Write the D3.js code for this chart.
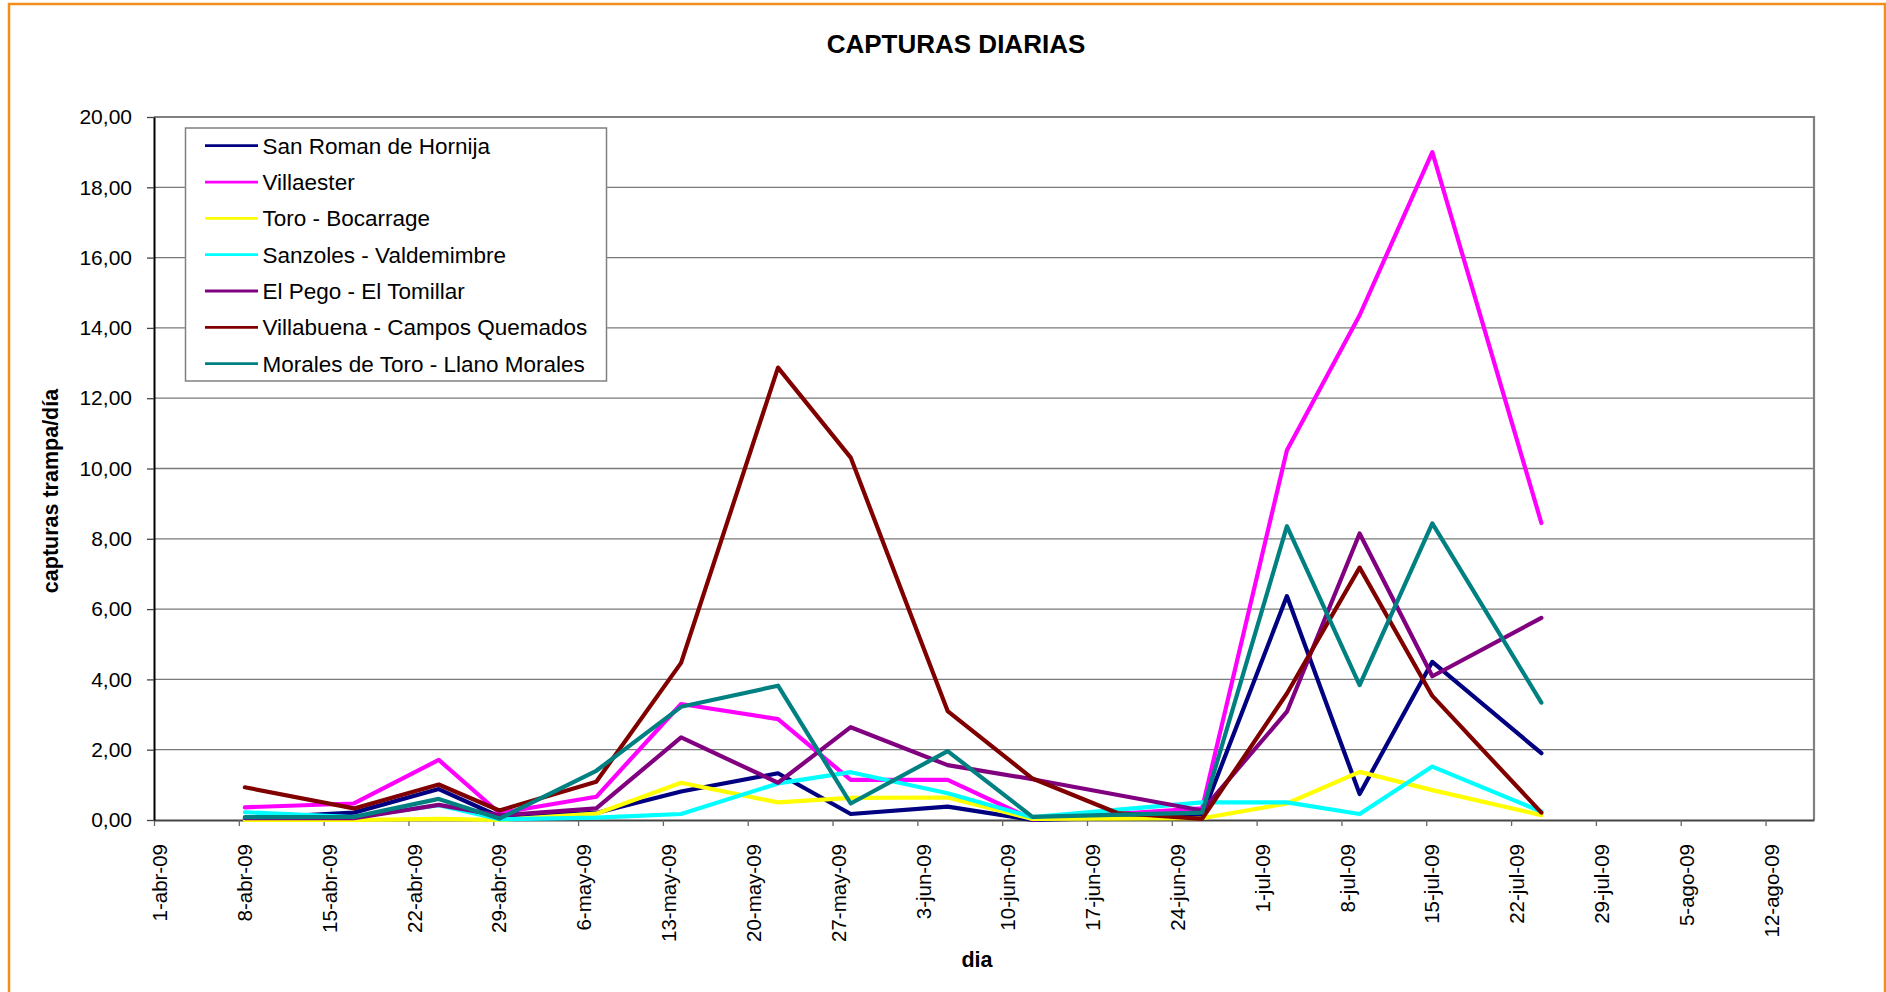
<!DOCTYPE html>
<html>
<head>
<meta charset="utf-8">
<script src="https://cdn.jsdelivr.net/npm/d3@7"></script>
<style>
  html, body { margin: 0; padding: 0; background: #fff; }
  svg text { font-family: "Liberation Sans", Arial, sans-serif; }
</style>
</head>
<body>
<svg id="chart" width="1886" height="992"></svg>
<script>
// ---------------- DATA ----------------
const dates = ["2009-04-08","2009-04-17","2009-04-24","2009-04-29","2009-05-07","2009-05-14",
  "2009-05-22","2009-05-28","2009-06-05","2009-06-12","2009-06-19","2009-06-26",
  "2009-07-03","2009-07-09","2009-07-15","2009-07-24"];

const seriesNames = ["San Roman de Hornija","Villaester","Toro - Bocarrage","Sanzoles - Valdemimbre",
  "El Pego - El Tomillar","Villabuena - Campos Quemados","Morales de Toro - Llano Morales"];

const sanRoman   = [0.05,0.21,0.88,0.10,0.20,0.81,1.33,0.17,0.38,0.00,null,0.12,6.37,0.74,4.50,1.90];
const villaester = [0.36,0.47,1.71,0.20,0.66,3.30,2.87,1.14,1.14,0.02,null,0.33,10.52,14.36,19.00,8.45];
const toro       = [0.00,0.00,0.03,0.00,0.18,1.06,0.50,0.63,0.64,0.03,null,0.05,0.47,1.37,0.85,0.14];
const sanzoles   = [0.22,0.08,0.42,0.02,0.07,0.17,1.04,1.36,0.76,0.08,null,0.50,0.50,0.17,1.52,0.24];
const elPego     = [0.05,0.05,0.43,0.13,0.33,2.35,1.06,2.64,1.56,1.16,null,0.27,3.08,8.15,4.09,5.75];
const villabuena = [0.93,0.33,1.01,0.27,1.09,4.47,12.87,10.31,3.10,1.18,0.20,0.03,3.60,7.18,3.53,0.21];
const morales    = [0.08,0.09,0.60,0.04,1.40,3.22,3.82,0.47,1.96,0.09,null,0.21,8.36,3.84,8.44,3.34];

const seriesColors = ["#000080","#FF00FF","#FFFF00","#00FFFF","#800080","#800000","#008080"];

const xTickDates = ["2009-04-01","2009-04-08","2009-04-15","2009-04-22","2009-04-29","2009-05-06",
  "2009-05-13","2009-05-20","2009-05-27","2009-06-03","2009-06-10","2009-06-17","2009-06-24",
  "2009-07-01","2009-07-08","2009-07-15","2009-07-22","2009-07-29","2009-08-05","2009-08-12"];
const xTickLabels = ["1-abr-09","8-abr-09","15-abr-09","22-abr-09","29-abr-09","6-may-09",
  "13-may-09","20-may-09","27-may-09","3-jun-09","10-jun-09","17-jun-09","24-jun-09",
  "1-jul-09","8-jul-09","15-jul-09","22-jul-09","29-jul-09","5-ago-09","12-ago-09"];
const yTicks = [0,2,4,6,8,10,12,14,16,18,20];

const title = "CAPTURAS DIARIAS";
const xTitle = "dia";
const yTitle = "capturas trampa/día";

// ---------------- LAYOUT ----------------
const svg = d3.select("#chart");
const plot = { left: 154, right: 1814, top: 117, bottom: 820 };
const parse = d3.utcParse("%Y-%m-%d");

const x = d3.scaleUtc()
  .domain([parse("2009-04-01"), parse("2009-08-16")])
  .range([plot.left, plot.right]);
const y = d3.scaleLinear().domain([0, 20]).range([plot.bottom, plot.top]);
// Points sit in the middle of their day
const xp = d => x(d3.utcHour.offset(d, 12));

// orange outer frame
svg.append("rect").attr("x", 9).attr("y", 4).attr("width", 1876).attr("height", 1100)
  .attr("fill", "none").attr("stroke", "#F28E1C").attr("stroke-width", 2.5);

// title
svg.append("text").attr("x", 956).attr("y", 53).attr("text-anchor", "middle")
  .attr("font-size", 26).attr("font-weight", "bold").attr("fill", "#000").text(title);

// gridlines
svg.append("g").selectAll("line").data(yTicks.filter(t => t > 0)).join("line")
  .attr("x1", plot.left).attr("x2", plot.right)
  .attr("y1", d => y(d)).attr("y2", d => y(d))
  .attr("stroke", "#7a7a7a").attr("stroke-width", 1.3);

// plot border top/right
svg.append("path")
  .attr("d", `M${plot.left},${plot.top}H${plot.right}V${plot.bottom}`)
  .attr("fill", "none").attr("stroke", "#808080").attr("stroke-width", 2.2);

// x axis
const xAxis = d3.axisBottom(x)
  .tickValues(xTickDates.map(parse))
  .tickFormat((d, i) => xTickLabels[i])
  .tickSize(6).tickSizeOuter(0);
const gx = svg.append("g").attr("transform", `translate(0,${plot.bottom})`).call(xAxis);
gx.select(".domain").attr("stroke", "#444").attr("stroke-width", 2);
gx.selectAll(".tick line").attr("stroke", "#666").attr("stroke-width", 1.3);
gx.selectAll(".tick text")
  .attr("transform", "rotate(-90)")
  .attr("x", -24).attr("y", 5.5).attr("dy", "0.35em")
  .attr("text-anchor", "end")
  .attr("font-size", 20.5).attr("fill", "#000")
  .style("font-family", '"Liberation Sans", Arial, sans-serif');

// y axis
const yAxis = d3.axisLeft(y).tickValues(yTicks)
  .tickFormat(d => d3.format(".2f")(d).replace(".", ","))
  .tickSize(7).tickPadding(15).tickSizeOuter(0);
const gy = svg.append("g").attr("transform", `translate(${plot.left},0)`).call(yAxis);
gy.select(".domain").attr("stroke", "#000").attr("stroke-width", 2);
gy.selectAll(".tick line").attr("stroke", "#444").attr("stroke-width", 1.3);
gy.selectAll(".tick text").attr("font-size", 21).attr("fill", "#000")
  .style("font-family", '"Liberation Sans", Arial, sans-serif');

// axis titles
svg.append("text").attr("x", 977).attr("y", 967).attr("text-anchor", "middle")
  .attr("font-size", 21.5).attr("font-weight", "bold").attr("fill", "#000").text(xTitle);
svg.append("text").attr("transform", "translate(50,491) rotate(-90)")
  .attr("dy", "0.35em").attr("text-anchor", "middle")
  .attr("font-size", 21.5).attr("font-weight", "bold").attr("fill", "#000").text(yTitle);

// lines
const allSeries = [sanRoman, villaester, toro, sanzoles, elPego, villabuena, morales];
const parsedDates = dates.map(parse);
const line = d3.line().x(d => xp(d.date)).y(d => y(d.value));
const gl = svg.append("g");
allSeries.forEach((vals, i) => {
  const pts = vals.map((v, j) => ({ date: parsedDates[j], value: v })).filter(p => p.value !== null);
  gl.append("path").datum(pts).attr("d", line)
    .attr("fill", "none").attr("stroke", seriesColors[i]).attr("stroke-width", 4.2)
    .attr("stroke-linejoin", "round").attr("stroke-linecap", "round");
});

// legend
const leg = svg.append("g");
leg.append("rect").attr("x", 185.5).attr("y", 128).attr("width", 421).attr("height", 253)
  .attr("fill", "#fff").attr("stroke", "#808080").attr("stroke-width", 1.5);
seriesNames.forEach((name, i) => {
  const cy = 145.7 + i * 36.33;
  leg.append("line").attr("x1", 205).attr("x2", 258).attr("y1", cy).attr("y2", cy)
    .attr("stroke", seriesColors[i]).attr("stroke-width", 2.8);
  leg.append("text").attr("x", 262.5).attr("y", cy).attr("dy", "0.35em")
    .attr("font-size", 22.5).attr("fill", "#000").text(name);
});
</script>
</body>
</html>
